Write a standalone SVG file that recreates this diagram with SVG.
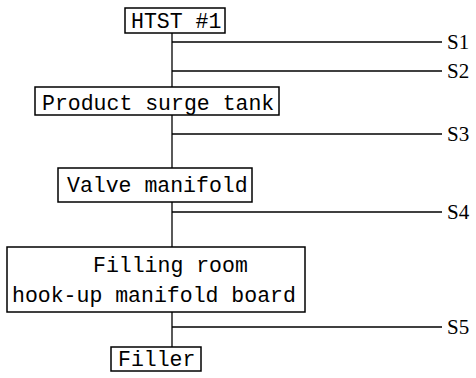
<svg xmlns="http://www.w3.org/2000/svg" width="476" height="378" viewBox="0 0 476 378">
<style>
.box{fill:#fff;stroke:#000;stroke-width:1.5}
.ln{stroke:#000;stroke-width:1.3;fill:none}
.t{font-family:"Liberation Mono","Courier New",monospace;font-size:21.5px;fill:#000}
.s{font-family:"Liberation Serif","Times New Roman",serif;font-size:21px;fill:#000}
</style>
<rect width="476" height="378" fill="#fff"/>
<g id="connectors">
<line class="ln" x1="172" y1="33" x2="172" y2="347"/>
<line class="ln" x1="172" y1="42" x2="442" y2="42"/>
<line class="ln" x1="172" y1="71" x2="442" y2="71"/>
<line class="ln" x1="172" y1="134" x2="442" y2="134"/>
<line class="ln" x1="172" y1="212" x2="442" y2="212"/>
<line class="ln" x1="172" y1="327" x2="442" y2="327"/>
</g>
<g id="labels">
<text class="s" x="447" y="49">S1</text>
<text class="s" x="447" y="78">S2</text>
<text class="s" x="447" y="141">S3</text>
<text class="s" x="447" y="219">S4</text>
<text class="s" x="447" y="334">S5</text>
</g>
<g id="htst">
<rect class="box" x="125" y="8" width="100" height="25"/>
<text class="t" x="131" y="28">HTST #1</text>
</g>
<g id="surge">
<rect class="box" x="35" y="87" width="244" height="28"/>
<text class="t" x="42" y="110">Product surge tank</text>
</g>
<g id="valve">
<rect class="box" x="58" y="168" width="194" height="34"/>
<text class="t" x="67" y="192">Valve manifold</text>
</g>
<g id="filling">
<rect class="box" x="7" y="247" width="298" height="65"/>
<text class="t" x="93" y="272">Filling room</text>
<text class="t" x="12" y="302">hook-up manifold board</text>
</g>
<g id="filler">
<rect class="box" x="111" y="347" width="90" height="24"/>
<text class="t" x="118" y="366">Filler</text>
</g>
</svg>
